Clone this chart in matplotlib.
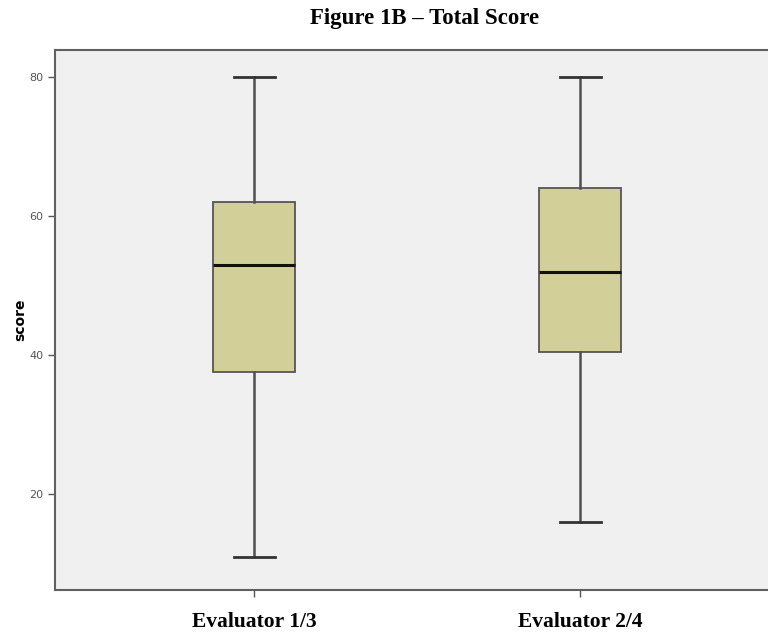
import matplotlib.pyplot as plt

groups = ['Evaluator 1/3', 'Evaluator 2/4']
whisker_low = [11, 16]
q1 = [37.5, 40.5]
median = [53, 52]
q3 = [62, 64]
whisker_high = [80, 80]

stats = []
for i in range(len(groups)):
    stats.append({
        'label': groups[i],
        'whislo': whisker_low[i],
        'q1': q1[i],
        'med': median[i],
        'q3': q3[i],
        'whishi': whisker_high[i],
        'fliers': [],
    })

fig = plt.figure(figsize=(7.68, 6.37), dpi=100)
ax = fig.add_axes([55 / 768, 1 - 590 / 637, 740 / 768, 540 / 637])
ax.set_facecolor('#f0f0f0')

ax.bxp(stats, positions=[1, 2], widths=0.252, patch_artist=True, showfliers=False,
       boxprops=dict(facecolor='#d3cf98', edgecolor='#555555', linewidth=1.3),
       medianprops=dict(color='#111111', linewidth=2.2),
       whiskerprops=dict(color='#505050', linewidth=1.8),
       capprops=dict(color='#333333', linewidth=2.0),
       capwidths=0.126)

ax.set_xlim(0.388, 2.66)
ax.set_ylim(6.2, 83.9)
ax.set_yticks([20, 40, 60, 80])

for s in ['left', 'bottom', 'top']:
    ax.spines[s].set_color('#606060')
    ax.spines[s].set_linewidth(1.5)
ax.spines['right'].set_visible(False)

ax.tick_params(axis='y', labelsize=8, labelcolor='#555555', color='#555555', length=5, width=1)
ax.tick_params(axis='x', length=5, width=1, color='#555555', pad=11)
ax.set_xticks([1, 2])
ax.set_xticklabels(groups, fontfamily='Liberation Serif', fontweight='bold', fontsize=15.5)

ax.set_ylabel('score', fontsize=10, fontweight='bold', labelpad=1)
ax.set_title('Figure 1B \u2013 Total Score', fontfamily='Liberation Serif',
             fontweight='bold', fontsize=16.5, pad=19)

fig.savefig('out.png', dpi=100)
